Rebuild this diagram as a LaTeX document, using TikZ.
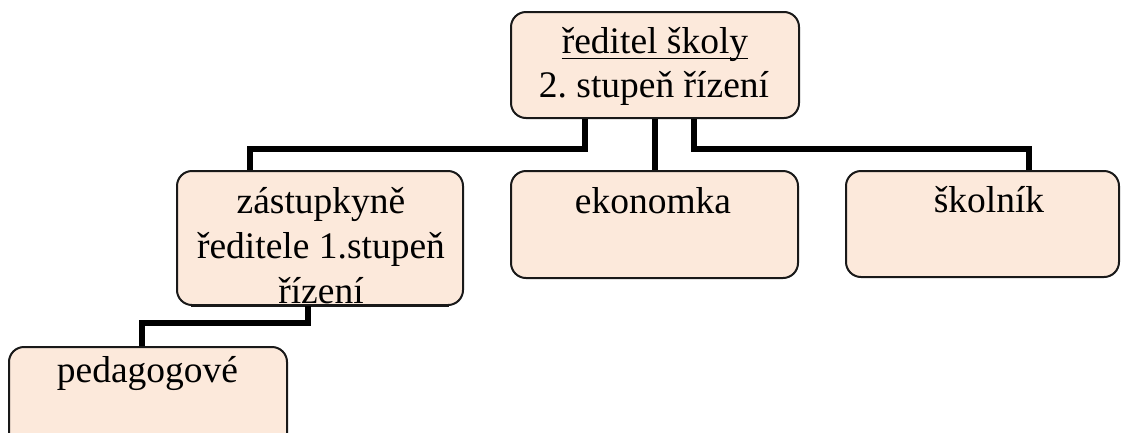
\documentclass[tikz,border=0pt]{standalone}
\usepackage{fontspec}
\setmainfont{Liberation Serif}
\frenchspacing
\begin{document}
\begin{tikzpicture}[x=1pt,y=-1pt,
  box/.style={draw=black!90, line width=2pt, fill=boxfill, rounded corners=15pt, inner sep=0pt},
  txt/.style={inner sep=0pt, anchor=base, font=\fontsize{37.5pt}{45pt}\selectfont},
  conn/.style={line width=5.5pt, draw=black}]
\definecolor{boxfill}{HTML}{FCE9DB}
\useasboundingbox (0,0) rectangle (1121,432);
% boxes
\node[box, minimum width=288pt, minimum height=106pt] (top) at (655,65) {};
\node[box, minimum width=286pt, minimum height=134pt] (zast) at (320,238) {};
\node[box, minimum width=287pt, minimum height=107pt] (ekon) at (654.5,224.5) {};
\node[box, minimum width=273pt, minimum height=106pt] (skol) at (982.5,224) {};
\node[box, minimum width=278pt, minimum height=106pt] (ped) at (148,400) {};
% texts
\node[txt] (t1) at (655,53) {ředitel školy};
\draw[line width=1.8pt] ([yshift=-5.5pt]t1.base west) -- ([yshift=-5.5pt]t1.base east);
\node[txt] (t2) at (654,97) {2. stupeň řízení};
\node[txt] (z1) at (321,213) {zástupkyně};
\node[txt] (z2) at (321,258) {ředitele 1.stupeň};
\node[txt] (z3) at (321,303) {řízení};
\draw[draw=black!90, line width=2pt] ([xshift=15pt]zast.south west) -- ([xshift=-15pt]zast.south east);
\node[txt] (e1) at (653,213) {ekonomka};
\node[txt] (s1) at (989,212) {školník};
\node[txt] (p1) at (147.5,382) {pedagogové};
% connectors
\draw[conn] ([xshift=-70pt]top.south) -- ++(0,30) -| ([xshift=-70pt]zast.north);
\draw[conn] (top.south) -- (top.south |- ekon.north);
\draw[conn] ([xshift=39pt]top.south) -- ++(0,30) -| ([xshift=46.5pt]skol.north);
\draw[conn] ([xshift=-12pt]zast.south) -- ++(0,17) -| ([xshift=-6pt]ped.north);
\end{tikzpicture}
\end{document}
